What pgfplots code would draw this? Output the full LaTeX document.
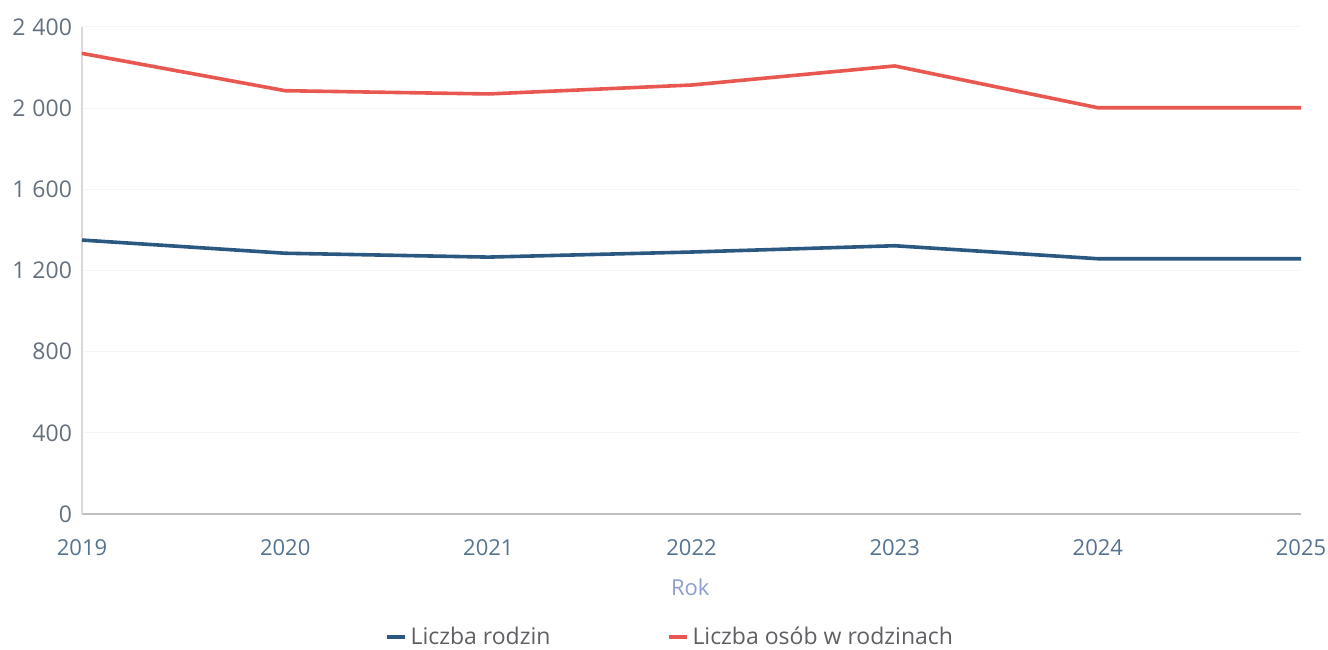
\documentclass[border=0pt]{standalone}
\usepackage{fontspec}
\setmainfont{Open Sans}
\usepackage{pgfplots}
\pgfplotsset{compat=1.18}
\usetikzlibrary{calc}
\definecolor{cred}{RGB}{232,88,80}
\definecolor{cblue}{RGB}{42,88,128}
\definecolor{ylab}{RGB}{100,112,125}
\definecolor{xlab}{RGB}{85,115,145}
\definecolor{roklab}{RGB}{140,158,205}
\definecolor{leglab}{RGB}{95,95,100}
\newcommand{\ts}{\hspace{0.3em}}
\begin{document}
\begin{tikzpicture}
\begin{axis}[
  name=ax,
  scale only axis,
  width=609.5pt, height=243.5pt,
  xmin=2019, xmax=2025, ymin=0, ymax=2400,
  xtick={2019,2020,2021,2022,2023,2024,2025},
  xticklabels={2019,2020,2021,2022,2023,2024,2025},
  ytick={0,400,800,1200,1600,2000,2400},
  yticklabels={0,400,800,1\ts200,1\ts600,2\ts000,2\ts400},
  major tick length=0pt,
  axis x line*=bottom, axis y line*=left,
  x axis line style={draw=black!25, line width=0.8pt},
  y axis line style={draw=black!15, line width=0.6pt},
  ymajorgrids, grid style={draw=black!4, line width=0.5pt},
  xticklabel style={text=xlab, yshift=-9pt, font=\fontsize{11}{13}\selectfont},
  yticklabel style={text=ylab, xshift=-1.5pt, font=\fontsize{11.5}{13}\selectfont},
  xlabel={Rok},
  xlabel style={at={(axis description cs:0.499,-0.15)}, anchor=center, text=roklab, font=\fontsize{11}{13}\selectfont},
  legend columns=2,
  legend style={at={(axis description cs:0.483,-0.2526)}, anchor=center, draw=none, fill=none,
    font=\fontsize{11.5}{13}\selectfont, text=leglab,
    /tikz/every even column/.append style={column sep=56pt}},
  legend image code/.code={\draw[#1, line width=2pt] (0pt,0pt) -- (9pt,0pt);},
  clip=false,
]
\coordinate (bl) at (rel axis cs:0,0);
\coordinate (tr) at (rel axis cs:1,1);
\addplot[cblue, line width=1.8pt] coordinates {
(2019,1350) (2020,1285) (2021,1266) (2022,1291) (2023,1322) (2024,1258) (2025,1258)};
\addlegendentry{Liczba rodzin}
\addplot[cred, line width=1.8pt] coordinates {
(2019,2270) (2020,2086) (2021,2070) (2022,2114) (2023,2208) (2024,2002) (2025,2002)};
\addlegendentry{Liczba osób w rodzinach}
\end{axis}
\pgfresetboundingbox
\path[use as bounding box] ($(bl)+(-41pt,-68pt)$) rectangle ($(tr)+(13.5pt,13.5pt)$);
\end{tikzpicture}
\end{document}
